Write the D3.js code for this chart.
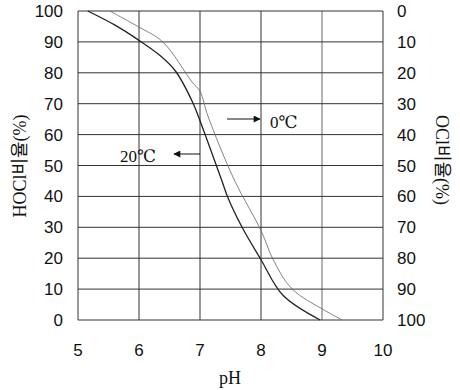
<!DOCTYPE html>
<html>
<head>
<meta charset="utf-8">
<script src="https://cdn.jsdelivr.net/npm/d3@7"></script>
<style>
  body { margin: 0; background: #fff; }
  svg text { fill: #111; }
</style>
</head>
<body>
<svg width="460" height="390"></svg>
<script>
// pH vs HOCl fraction (%)
const xTicks = [5, 6, 7, 8, 9, 10];
const yTicks = [0, 10, 20, 30, 40, 50, 60, 70, 80, 90, 100];
const curve20 = [
  [5.16, 100], [5.6, 95.5], [6.0, 90.5], [6.35, 85.5], [6.6, 80.5],
  [6.89, 70], [7.0, 64.5], [7.36, 45], [7.46, 39.5],
  [7.69, 30], [8.0, 19.5], [8.36, 8], [8.97, 0]
];
const curve0 = [
  [5.52, 100], [5.98, 95], [6.39, 90], [6.87, 77], [7.0, 74],
  [7.13, 66], [7.57, 45], [8.0, 29], [8.2, 19.5], [8.51, 10],
  [9.02, 3.4], [9.33, 0]
];

const svg = d3.select('svg');
const x = d3.scaleLinear().domain([5, 10]).range([78, 383]);
const y = d3.scaleLinear().domain([0, 100]).range([320, 11]);

const grid = svg.append('g');
grid.selectAll('.vx')
  .data(xTicks)
  .enter()
  .append('line')
  .attr('x1', d => x(d))
  .attr('x2', d => x(d))
  .attr('y1', y(0))
  .attr('y2', y(100))
  .style('stroke', d => (d === 9 ? '#666' : '#333'))
  .style('stroke-width', 1);
grid.selectAll('.hy')
  .data(yTicks)
  .enter()
  .append('line')
  .attr('x1', x(5))
  .attr('x2', x(10))
  .attr('y1', d => y(d))
  .attr('y2', d => y(d))
  .style('stroke', '#333')
  .style('stroke-width', 1);

const tickFont = '"Liberation Sans", Arial, sans-serif';

svg.append('g')
  .selectAll('text')
  .data(yTicks)
  .enter()
  .append('text')
  .attr('x', 63)
  .attr('y', d => y(d) + 6)
  .attr('text-anchor', 'end')
  .style('font-family', tickFont)
  .style('font-size', '17px')
  .text(d => d);

svg.append('g')
  .selectAll('text')
  .data(yTicks)
  .enter()
  .append('text')
  .attr('x', 397)
  .attr('y', d => y(d) + 6)
  .attr('text-anchor', 'start')
  .style('font-family', tickFont)
  .style('font-size', '17px')
  .text(d => 100 - d);

svg.append('g')
  .selectAll('text')
  .data(xTicks)
  .enter()
  .append('text')
  .attr('x', d => x(d))
  .attr('y', 356)
  .attr('text-anchor', 'middle')
  .style('font-family', tickFont)
  .style('font-size', '17px')
  .text(d => d);

const line = d3.line()
  .x(d => x(d[0]))
  .y(d => y(d[1]))
  .curve(d3.curveCatmullRom.alpha(0.5));

svg.append('path')
  .datum(curve0)
  .attr('d', line)
  .style('fill', 'none')
  .style('stroke', '#666')
  .style('stroke-width', 0.8);

svg.append('path')
  .datum(curve20)
  .attr('d', line)
  .style('fill', 'none')
  .style('stroke', '#222')
  .style('stroke-width', 1.3);

// annotation arrows
const defs = svg.append('defs');
defs.append('marker')
  .attr('id', 'ah')
  .attr('viewBox', '0 0 10 10')
  .attr('refX', 9)
  .attr('refY', 5)
  .attr('markerWidth', 10)
  .attr('markerHeight', 7)
  .attr('markerUnits', 'userSpaceOnUse')
  .attr('orient', 'auto')
  .append('path')
  .attr('d', 'M0,0 L10,5 L0,10 Z')
  .style('fill', '#111');

svg.append('line')
  .attr('x1', 227).attr('y1', 119)
  .attr('x2', 260).attr('y2', 119)
  .style('stroke', '#111')
  .attr('marker-end', 'url(#ah)');

svg.append('line')
  .attr('x1', 200).attr('y1', 154)
  .attr('x2', 174).attr('y2', 154)
  .style('stroke', '#111')
  .attr('marker-end', 'url(#ah)');

const serif = '"Liberation Serif", "DejaVu Serif", "Noto Sans CJK KR", serif';

svg.append('text')
  .attr('x', 270)
  .attr('y', 128)
  .style('font-family', serif)
  .style('font-size', '17px')
  .text('0℃');

svg.append('text')
  .attr('x', 120)
  .attr('y', 162)
  .style('font-family', serif)
  .style('font-size', '17px')
  .text('20℃');

svg.append('text')
  .attr('x', 230)
  .attr('y', 384)
  .attr('text-anchor', 'middle')
  .style('font-family', serif)
  .style('font-size', '18px')
  .text('pH');

svg.append('text')
  .attr('transform', 'translate(26,166) rotate(-90)')
  .attr('text-anchor', 'middle')
  .style('font-family', serif)
  .style('font-size', '18px')
  .text('HOCl비율(%)');

svg.append('text')
  .attr('transform', 'translate(436,160) rotate(90)')
  .attr('text-anchor', 'middle')
  .style('font-family', serif)
  .style('font-size', '18px')
  .text('OCl비율(%)');
</script>
</body>
</html>
